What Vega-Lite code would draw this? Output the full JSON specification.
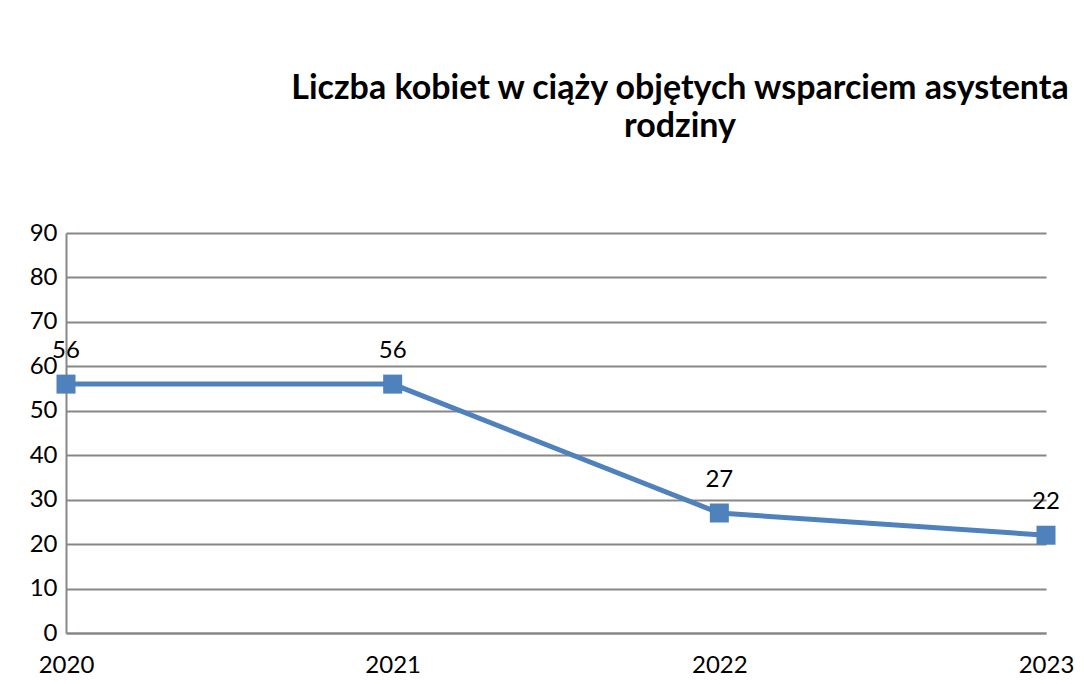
{
  "$schema": "https://vega.github.io/schema/vega-lite/v6.json",
  "width": 980,
  "height": 400,
  "autosize": {"type": "none"},
  "padding": {"left": 66, "top": 233, "right": 38, "bottom": 51},
  "background": "white",
  "config": {"view": {"stroke": null}, "font": "Lato"},
  "title": {
    "text": ["Liczba kobiet w ciąży objętych wsparciem asystenta", "rodziny"],
    "font": "Lato",
    "fontSize": 34,
    "fontWeight": "bold",
    "color": "#000000",
    "anchor": "middle",
    "dx": 124,
    "offset": 77,
    "lineHeight": 38
  },
  "data": {
    "values": [
      {"rok": "2020", "liczba": 56},
      {"rok": "2021", "liczba": 56},
      {"rok": "2022", "liczba": 27},
      {"rok": "2023", "liczba": 22}
    ]
  },
  "encoding": {
    "x": {
      "field": "rok",
      "type": "ordinal",
      "scale": {"type": "point", "padding": 0},
      "axis": {
        "title": null,
        "labelAngle": 0,
        "labelFont": "Lato",
        "labelFontSize": 24,
        "labelColor": "#000000",
        "labelPadding": 20,
        "ticks": false,
        "grid": false,
        "domainColor": "#878787",
        "domainWidth": 2
      }
    },
    "y": {
      "field": "liczba",
      "type": "quantitative",
      "scale": {"domain": [0, 90], "nice": false},
      "axis": {
        "title": null,
        "values": [0, 10, 20, 30, 40, 50, 60, 70, 80, 90],
        "labelFont": "Lato",
        "labelFontSize": 24,
        "labelColor": "#000000",
        "labelPadding": 9,
        "ticks": false,
        "grid": true,
        "gridColor": "#878787",
        "gridWidth": 2,
        "domainColor": "#878787",
        "domainWidth": 2
      }
    }
  },
  "layer": [
    {
      "mark": {"type": "line", "color": "#4F81BD", "strokeWidth": 5}
    },
    {
      "mark": {"type": "point", "shape": "square", "filled": true, "size": 361, "color": "#4F81BD", "opacity": 1}
    },
    {
      "mark": {"type": "text", "dy": -33, "font": "Lato", "fontSize": 24, "color": "#000000"},
      "encoding": {"text": {"field": "liczba", "type": "quantitative"}}
    }
  ]
}
